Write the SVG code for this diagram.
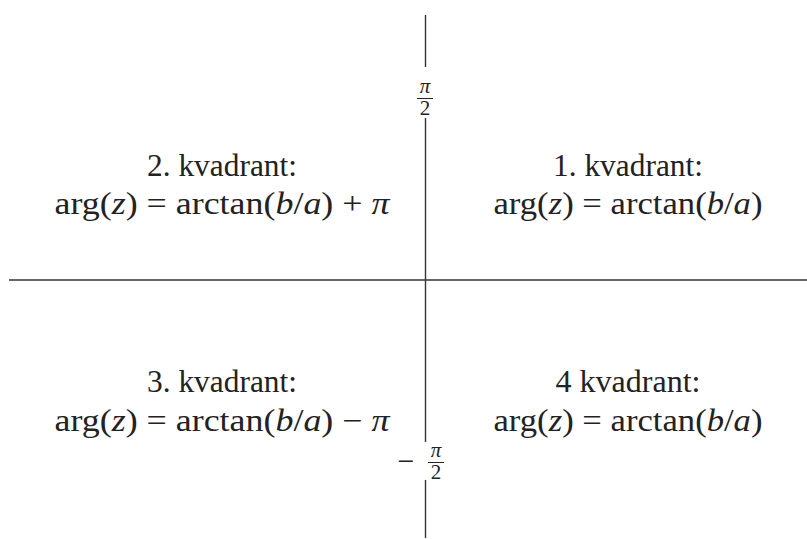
<svg xmlns="http://www.w3.org/2000/svg" width="807" height="539" viewBox="0 0 807 539">
<style>
.t{font-family:"Liberation Serif","DejaVu Serif",serif;font-size:31px;fill:#222;text-anchor:middle}
.f{font-family:"Liberation Serif","DejaVu Serif",serif;font-size:21px;fill:#222;text-anchor:middle}
.ax{stroke:#333;stroke-width:1.4;fill:none}
.i{font-style:italic}
</style>
<rect width="807" height="539" fill="#fff"/>
<g id="axes">
<line class="ax" x1="9" y1="280" x2="807" y2="280"/>
<line class="ax" x1="425.5" y1="15" x2="425.5" y2="67"/>
<line class="ax" x1="425.5" y1="118" x2="425.5" y2="442"/>
<line class="ax" x1="425.5" y1="480" x2="425.5" y2="538"/>
</g>
<g id="label-top">
<text class="f i" x="425" y="93">π</text>
<line x1="417" y1="98.5" x2="433" y2="98.5" stroke="#222" stroke-width="1"/>
<text class="f" x="425" y="115">2</text>
</g>
<g id="label-bottom">
<text class="f" x="406" y="471" style="font-size:30px">−</text>
<text class="f i" x="436" y="457">π</text>
<line x1="428" y1="462.5" x2="444" y2="462.5" stroke="#222" stroke-width="1"/>
<text class="f" x="436" y="479">2</text>
</g>
<g id="q2">
<text class="t" x="222" y="176" textLength="150" lengthAdjust="spacingAndGlyphs">2. kvadrant:</text>
<text class="t" x="222" y="214" textLength="335" lengthAdjust="spacingAndGlyphs">arg(<tspan class="i">z</tspan>) = arctan(<tspan class="i">b</tspan>/<tspan class="i">a</tspan>) + <tspan class="i">π</tspan></text>
</g>
<g id="q1">
<text class="t" x="628" y="176" textLength="150" lengthAdjust="spacingAndGlyphs">1. kvadrant:</text>
<text class="t" x="628" y="214" textLength="269" lengthAdjust="spacingAndGlyphs">arg(<tspan class="i">z</tspan>) = arctan(<tspan class="i">b</tspan>/<tspan class="i">a</tspan>)</text>
</g>
<g id="q3">
<text class="t" x="222" y="392" textLength="150" lengthAdjust="spacingAndGlyphs">3. kvadrant:</text>
<text class="t" x="222" y="431" textLength="335" lengthAdjust="spacingAndGlyphs">arg(<tspan class="i">z</tspan>) = arctan(<tspan class="i">b</tspan>/<tspan class="i">a</tspan>) − <tspan class="i">π</tspan></text>
</g>
<g id="q4">
<text class="t" x="628" y="392" textLength="145" lengthAdjust="spacingAndGlyphs">4 kvadrant:</text>
<text class="t" x="628" y="431" textLength="269" lengthAdjust="spacingAndGlyphs">arg(<tspan class="i">z</tspan>) = arctan(<tspan class="i">b</tspan>/<tspan class="i">a</tspan>)</text>
</g>
</svg>
